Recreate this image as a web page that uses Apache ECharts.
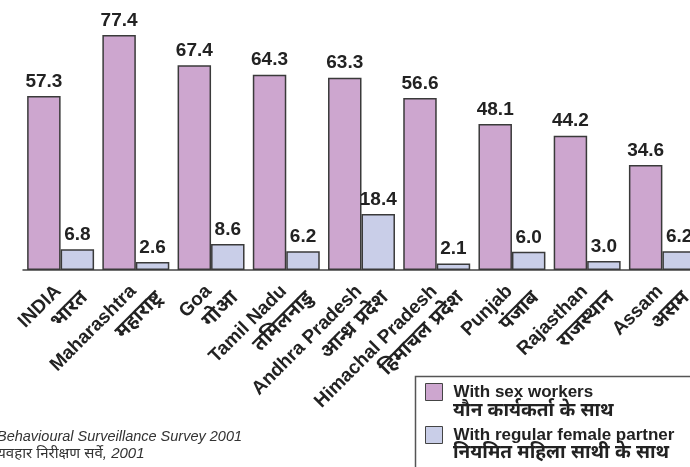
<!DOCTYPE html>
<html>
<head>
<meta charset="utf-8">
<script src="https://cdn.jsdelivr.net/npm/echarts@6/dist/echarts.min.js"></script>
<style>
html,body{margin:0;padding:0;background:#fff;}
#chart{width:690px;height:467px;}
</style>
</head>
<body>
<div id="chart"></div>
<script>
const categories = ['INDIA','Maharashtra','Goa','Tamil Nadu','Andhra Pradesh','Himachal Pradesh','Punjab','Rajasthan','Assam'];
const categoriesHindi = ['भारत','महाराष्ट्र','गोआ','तमिलनाडु','आन्ध्र प्रदेश','हिमाचल प्रदेश','पंजाब','राजस्थान','असम'];
const sexWorkers = [57.3, 77.4, 67.4, 64.3, 63.3, 56.6, 48.1, 44.2, 34.6];
const regularPartner = [6.8, 2.6, 8.6, 6.2, 18.4, 2.1, 6.0, 3.0, 6.2];
const seriesNames = ['With sex workers', 'With regular female partner'];
const seriesNamesHindi = ['यौन कार्यकर्ता के साथ', 'नियमित महिला साथी के साथ'];
const sourceLines = ['Behavioural Surveillance Survey 2001', 'व्यवहार निरीक्षण सर्वे, 2001'];

const FONT = '"Liberation Sans", Arial, "Noto Sans", sans-serif';
const chart = echarts.init(document.getElementById('chart'), null, {renderer: 'canvas'});

const labelStyle = {
  show: true, position: 'top', distance: 5,
  fontFamily: FONT, fontSize: 19, fontWeight: 'bold', color: '#222',
  formatter: p => p.value.toFixed(1)
};

chart.setOption({
  animation: false,
  backgroundColor: '#fff',
  grid: {left: 23, width: 677, top: 27, height: 243, containLabel: false, outerBoundsMode: 'none'},
  xAxis: {
    type: 'category',
    data: categories,
    axisLine: {show: true, lineStyle: {color: '#444', width: 1.5}},
    axisTick: {show: false},
    axisLabel: {
      interval: 0, rotate: 45, margin: 1, verticalAlign: 'top',
      formatter: (v, i) => '{en|' + v + '}\n{hi|' + categoriesHindi[i] + '}',
      rich: {
        en: {fontFamily: FONT, fontSize: 19, fontWeight: 'bold', color: '#222', lineHeight: 21, padding: [0, 14, 0, 0]},
        hi: {fontFamily: FONT, fontSize: 20, fontWeight: 'bold', color: '#222', lineHeight: 25}
      }
    }
  },
  yAxis: {type: 'value', show: false, min: 0, max: 80},
  legend: {
    orient: 'vertical', left: 425, top: 383,
    padding: 0,
    itemWidth: 17, itemHeight: 17, itemGap: 25,
    icon: 'rect',
    itemStyle: {borderColor: '#444', borderWidth: 1},
    textStyle: {fontFamily: FONT, fontSize: 17, fontWeight: 'bold', color: '#222', lineHeight: 17, padding: [0, 0, 0, 6]},
    data: seriesNames
  },
  graphic: [
    {type: 'rect', left: 413, top: 374, silent: true, z: -1,
     shape: {width: 400, height: 200},
     style: {fill: 'none', stroke: '#555', lineWidth: 1.5}},
    {type: 'text', left: 453, top: 401, silent: true,
     style: {text: seriesNamesHindi[0], font: 'bold 19px ' + FONT, fill: '#222'}},
    {type: 'text', left: 453, top: 443, silent: true,
     style: {text: seriesNamesHindi[1], font: 'bold 19px ' + FONT, fill: '#222'}},
    {type: 'text', left: -3, top: 429, silent: true,
     style: {text: sourceLines[0], font: 'italic 14.5px ' + FONT, fill: '#333'}},
    {type: 'text', left: -8, top: 446, silent: true,
     style: {text: sourceLines[1], font: 'italic 15px ' + FONT, fill: '#333'}}
  ],
  series: [
    {
      name: seriesNames[0], type: 'bar', data: sexWorkers,
      barGap: '0%', barCategoryGap: '11%',
      itemStyle: {color: '#CDA6CF', borderColor: '#3a3a3a', borderWidth: 1.5},
      label: labelStyle
    },
    {
      name: seriesNames[1], type: 'bar', data: regularPartner,
      barGap: '0%', barCategoryGap: '11%',
      itemStyle: {color: '#C9CEE8', borderColor: '#3a3a3a', borderWidth: 1.5},
      label: labelStyle
    }
  ]
});
</script>
</body>
</html>
